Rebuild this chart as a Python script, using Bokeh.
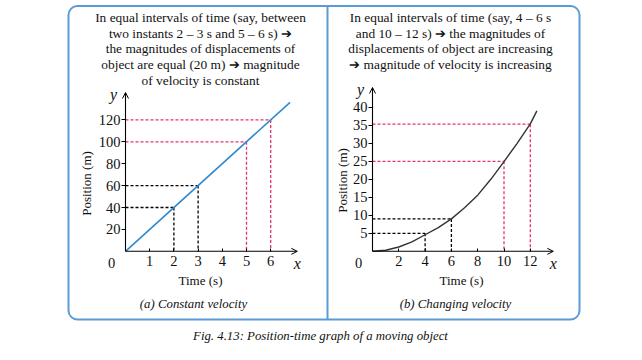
from bokeh.plotting import figure
from bokeh.models import (Range1d, LinearAxis, FixedTicker, Arrow, OpenHead)
from bokeh.core.properties import value
from bokeh.embed import file_html
from bokeh.resources import INLINE

# ---------------- data ----------------
# (a) constant velocity
a_line_t = [0, 6.8]
a_line_pos = [0, 136]
a_black_t = [2, 3]
a_black_pos = [40, 60]
a_pink_t = [5, 6]
a_pink_pos = [100, 120]
a_xticks = [1, 2, 3, 4, 5, 6]
a_yticks = [20, 40, 60, 80, 100, 120]

# (b) changing velocity
b_curve_t = [0, 1, 2, 3, 4, 5, 6, 7, 8, 9, 10, 11, 12, 12.5]
b_curve_pos = [0, 0.3, 1.2, 2.6, 4.6, 6.6, 9.0, 12.1, 15.6, 20.0, 24.9, 30.0, 35.4, 39.0]
b_black_t = [4, 6]
b_black_pos = [5, 9]
b_pink_t = [10, 12]
b_pink_pos = [25, 35.3]
b_xticks = [2, 4, 6, 8, 10, 12]
b_yticks = [5, 10, 15, 20, 25, 30, 35, 40]

text_a = ["In equal intervals of time (say, between",
          "two instants 2 \u2013 3 s and 5 \u2013 6 s) \u2794",
          "the magnitudes of displacements of",
          "object are equal (20 m) \u2794 magnitude",
          "of velocity is constant"]
text_b = ["In equal intervals of time (say, 4 \u2013 6 s",
          "and 10 \u2013 12 s) \u2794 the magnitudes of",
          "displacements of object are increasing",
          "\u2794 magnitude of velocity is increasing"]

# ---------------- layout helpers ----------------
W, H = 626, 344
def X(rx):  # reference pixel x -> page coordinate
    return rx
def Y(ry):  # reference pixel y (from top) -> page coordinate (from bottom)
    return H - ry

def rng(origin_px, ppu, total):
    return Range1d(-origin_px / ppu, (total - origin_px) / ppu)

SERIF = "Liberation Serif"
BOX = "#5b9bd5"
PINK = "#e6306e"
BLUE = "#3089cc"
INK = "#111111"

p = figure(width=W, height=H, x_range=Range1d(0, W), y_range=Range1d(0, H),
           x_axis_type=None, y_axis_type=None, toolbar_location=None,
           output_backend="svg", min_border=0, outline_line_color=None)
p.xgrid.visible = False
p.ygrid.visible = False

p.extra_x_ranges = {"ax": rng(X(125), 24.2, W), "bx": rng(X(372), 13.15, W)}
p.extra_y_ranges = {"ay": rng(Y(250.8), 1.095, H), "by": rng(Y(250.8), 3.6, H)}

# ---------------- box ----------------
p.quad(left=[X(68)], right=[X(579)], top=[Y(5.5)], bottom=[Y(319)],
       border_radius=9, fill_color=None, line_color=BOX, line_width=2)
p.segment(x0=[X(327)], x1=[X(327)], y0=[Y(5.5)], y1=[Y(319)],
          line_color=BOX, line_width=2)

def txt(x, y, s, size="13.4px", style="normal", **kw):
    p.text(x=[x], y=[y], text=[s], text_font=value(SERIF),
           text_font_size=size, text_font_style=style, text_color=INK,
           text_align="center", text_baseline="middle", **kw)

for i, s in enumerate(text_a):
    txt(X(200), Y(16.7 + i * 15.8), s)
for i, s in enumerate(text_b):
    txt(X(450), Y(16.7 + i * 15.8), s)

txt(X(200), Y(280), "Time (s)", size="13px")
txt(X(461), Y(280), "Time (s)", size="13px")
txt(X(86), Y(183), "Position (m)", size="13px", angle=1.5708)
txt(X(342), Y(180), "Position (m)", size="13px", angle=1.5708)
txt(X(193), Y(303), "(a) Constant velocity", size="12.8px", style="italic")
txt(X(455), Y(303), "(b) Changing velocity", size="12.8px", style="italic")
txt(X(320), Y(335.5), "Fig. 4.13: Position-time graph of a moving object",
    size="12.8px", style="italic")

# ---------------- charts ----------------
def chart(xr, yr, xticks, yticks, xend, yend):
    common = dict(x_range_name=xr, y_range_name=yr, fixed_location=0,
                  axis_line_color=None, minor_tick_line_color=None,
                  major_label_text_font=SERIF, major_label_text_font_size="14.5px",
                  major_label_text_color=INK, major_tick_line_color="black")
    xa = LinearAxis(ticker=FixedTicker(ticks=xticks), major_tick_in=3,
                    major_tick_out=0, major_label_standoff=5, **common)
    ya = LinearAxis(ticker=FixedTicker(ticks=yticks), major_tick_in=0,
                    major_tick_out=4, major_label_standoff=1, **common)
    p.add_layout(xa, "below")
    p.add_layout(ya, "left")
    for (xe, ye) in [(xend, 0), (0, yend)]:
        p.add_layout(Arrow(end=OpenHead(size=6, line_width=1, line_color="black"),
                           x_start=0, y_start=0, x_end=xe, y_end=ye,
                           x_range_name=xr, y_range_name=yr,
                           line_color="black", line_width=1.1))
    kw = dict(x_range_name=xr, y_range_name=yr, text_font=value(SERIF),
              text_color=INK, text_baseline="middle", text_align="center")
    p.text(x=[0], y=[0], text=["0"], x_offset=-14, y_offset=12,
           text_font_size="14.5px", **kw)
    p.text(x=[xend], y=[0], text=["x"], y_offset=12, text_font_style="italic",
           text_font_size="16px", **kw)
    p.text(x=[0], y=[yend], text=["y"], x_offset=-12, y_offset=2,
           text_font_style="italic", text_font_size="16px", **kw)

def guides(xr, yr, ts, ys, color):
    n = len(ts)
    p.segment(x0=[0] * n, y0=ys, x1=ts, y1=ys, line_color=color,
              line_width=1.3, line_dash="3 2", x_range_name=xr, y_range_name=yr)
    p.segment(x0=ts, y0=ys, x1=ts, y1=[0] * n, line_color=color,
              line_width=1.3, line_dash="3 2", x_range_name=xr, y_range_name=yr)

chart("ax", "ay", a_xticks, a_yticks, 7.1, 145)
guides("ax", "ay", a_black_t, a_black_pos, "black")
guides("ax", "ay", a_pink_t, a_pink_pos, PINK)
p.line(a_line_t, a_line_pos, line_color=BLUE, line_width=1.6,
       x_range_name="ax", y_range_name="ay")

chart("bx", "by", b_xticks, b_yticks, 13.75, 45.5)
guides("bx", "by", b_black_t, b_black_pos, "black")
guides("bx", "by", b_pink_t, b_pink_pos, PINK)
p.line(b_curve_t, b_curve_pos, line_color="#333333", line_width=1.4,
       x_range_name="bx", y_range_name="by")

open("out.html", "w").write(file_html(p, INLINE))
